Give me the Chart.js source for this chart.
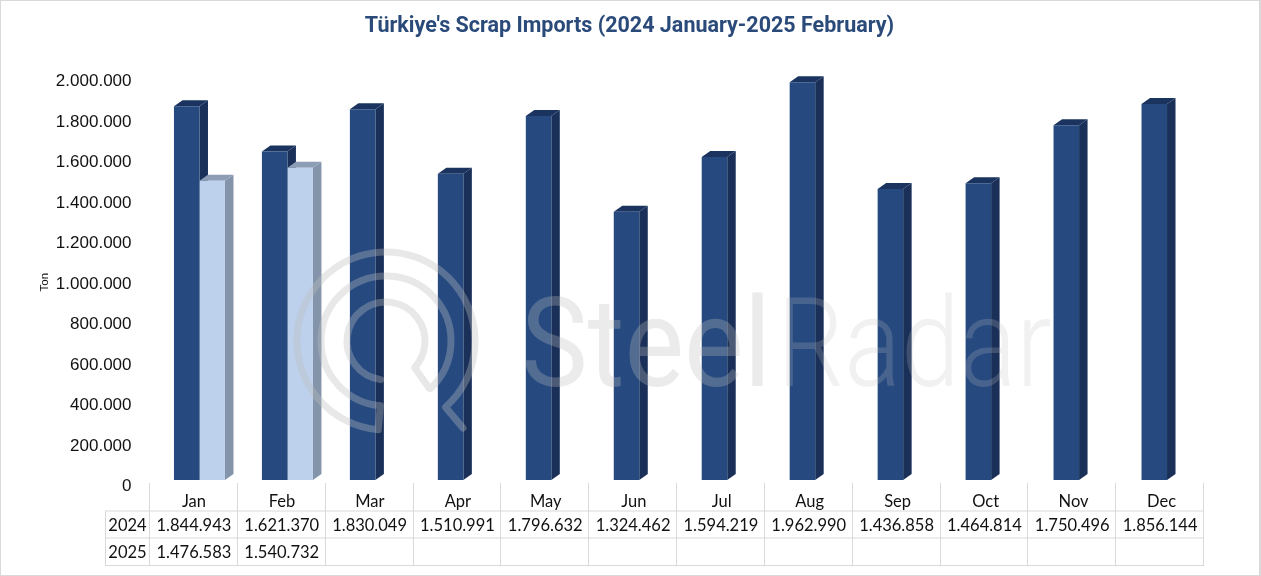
<!DOCTYPE html>
<html>
<head>
<meta charset="utf-8">
<style>
  html, body { margin: 0; padding: 0; background: #fff; }
  canvas { display: block; }
</style>
<script src="https://cdn.jsdelivr.net/npm/chart.js@4"></script>
</head>
<body>
<canvas id="myChart" width="1261" height="576"></canvas>
<script>
const months = ["Jan", "Feb", "Mar", "Apr", "May", "Jun", "Jul", "Aug", "Sep", "Oct", "Nov", "Dec"];
const values2024 = [1844943, 1621370, 1830049, 1510991, 1796632, 1324462, 1594219, 1962990, 1436858, 1464814, 1750496, 1856144];
const values2025 = [1476583, 1540732, null, null, null, null, null, null, null, null, null, null];

const titleText = "Türkiye's Scrap Imports (2024 January-2025 February)";
const tableFont = "16.5px Lato";
const gridColor = "#d9d9d9";
const depthX = 8.5;
const depthY = 6;
const shift = 5.5; // table and labels sit left of the bars

const fmt = (v) => v === null ? "" : String(v).replace(/\B(?=(\d{3})+$)/g, ".");

// side and top faces of the 3d bars, 2024 first so 2025 covers them
const depthBars = {
  id: "depthBars",
  beforeDatasetsDraw(chart) {
    const c = chart.ctx;
    chart.data.datasets.forEach((ds, d) => {
      chart.getDatasetMeta(d).data.forEach((bar, i) => {
        if (ds.data[i] === null) return;
        const left = bar.x - bar.width / 2;
        const right = bar.x + bar.width / 2;
        c.fillStyle = ds.sideColor;
        c.beginPath();
        c.moveTo(right, bar.y);
        c.lineTo(right + depthX, bar.y - depthY);
        c.lineTo(right + depthX, bar.base - depthY);
        c.lineTo(right, bar.base);
        c.closePath();
        c.fill();
        c.fillStyle = ds.topColor;
        c.beginPath();
        c.moveTo(left, bar.y);
        c.lineTo(left + depthX, bar.y - depthY);
        c.lineTo(right + depthX, bar.y - depthY);
        c.lineTo(right, bar.y);
        c.closePath();
        c.fill();
      });
    });
  }
};

const watermark = {
  id: "watermark",
  afterDatasetsDraw(chart) {
    const c = chart.ctx;
    const rad = (d) => d * Math.PI / 180;
    const cx = 386, cy = 341;
    c.save();
    c.strokeStyle = "rgba(189,189,189,0.35)";
    c.lineWidth = 7;
    c.lineJoin = "round";
    c.lineCap = "round";
    c.beginPath();
    c.arc(cx, cy, 39, rad(98), rad(43));
    c.lineTo(429, 388);
    c.arc(cx, cy, 65, rad(47), rad(95), true);
    c.arc(cx, cy, 89, rad(95), rad(48));
    c.lineTo(463, 428);
    c.stroke();
    c.textBaseline = "alphabetic";
    c.fillStyle = "rgba(189,189,189,0.3)";
    c.font = "400 124px Roboto";
    c.fillText("Steel", 521, 386, 250);
    c.fillStyle = "rgba(189,189,189,0.22)";
    c.font = "300 124px Roboto";
    c.fillText("Radar", 777, 386, 275);
    c.restore();
  }
};

// the title is centred on the whole picture, not on the padded box
const titleCentre = {
  id: "titleCentre",
  beforeDraw(chart) {
    chart.titleBlock.left = 0;
    chart.titleBlock.right = 1259;
  }
};

const dataTable = {
  id: "dataTable",
  afterDraw(chart) {
    const c = chart.ctx;
    const colW = 1054 / months.length;
    const x0 = chart.scales.x.left - shift;
    const rows = [["2024", values2024], ["2025", values2025]];
    const rowY = [511, 538, 565.5];
    c.save();
    c.strokeStyle = gridColor;
    c.lineWidth = 1;
    c.beginPath();
    for (let i = 0; i <= months.length; i++) {
      const px = Math.round(x0 + i * colW) - 0.5;
      c.moveTo(px, 483);
      c.lineTo(px, rowY[2]);
    }
    c.moveTo(105.5, rowY[0]);
    c.lineTo(105.5, rowY[2]);
    rowY.forEach((y) => {
      c.moveTo(105, y);
      c.lineTo(x0 + months.length * colW, y);
    });
    c.stroke();

    c.font = tableFont;
    c.fillStyle = "#111";
    c.textAlign = "center";
    c.textBaseline = "middle";
    rows.forEach((row, r) => {
      const y = (rowY[r] + rowY[r + 1]) / 2 + 1;
      c.fillText(row[0], 127.5, y);
      row[1].forEach((v, i) => c.fillText(fmt(v), x0 + (i + 0.5) * colW, y));
    });

    // picture frame
    c.strokeStyle = gridColor;
    c.lineWidth = 2;
    c.strokeRect(0, 0, 1260, 576);
    c.restore();
  }
};

new Chart(document.querySelector("#myChart"), {
  type: "bar",
  data: {
    labels: months,
    datasets: [
      { label: "2024", data: values2024, backgroundColor: "#264a80", sideColor: "#1a3059", topColor: "#1b335f" },
      { label: "2025", data: values2025, backgroundColor: "#bdd1ed", sideColor: "#8495ab", topColor: "#8c9db5" }
    ]
  },
  options: {
    responsive: false,
    animation: false,
    layout: { padding: { right: 50 } },
    categoryPercentage: 0.58,
    barPercentage: 1,
    plugins: {
      legend: { display: false },
      tooltip: { enabled: false },
      title: {
        display: true,
        text: titleText,
        color: "#2a4a7a",
        font: { family: "Roboto", size: 21.5, weight: "bold" },
        padding: { top: 13.5, bottom: 35.5 }
      }
    },
    scales: {
      x: {
        grid: { display: false },
        border: { display: false },
        afterFit: (axis) => { axis.height = 96; },
        ticks: {
          color: "#111",
          font: { family: "Lato", size: 16.5 },
          padding: 4,
          labelOffset: -shift,
          maxRotation: 0
        }
      },
      y: {
        min: 0,
        max: 2000000,
        grid: { display: false },
        border: { display: false },
        afterFit: (axis) => { axis.width = 155.5; },
        title: {
          display: true,
          text: "Ton   ",
          color: "#111",
          font: { family: "Liberation Sans", size: 11.5 },
          padding: { top: 38, bottom: 0 }
        },
        ticks: {
          stepSize: 200000,
          color: "#111",
          font: { family: "Liberation Sans", size: 17 },
          padding: 16,
          labelOffset: 6.5,
          callback: (v) => fmt(v)
        }
      }
    }
  },
  plugins: [titleCentre, depthBars, watermark, dataTable]
});
</script>
</body>
</html>
